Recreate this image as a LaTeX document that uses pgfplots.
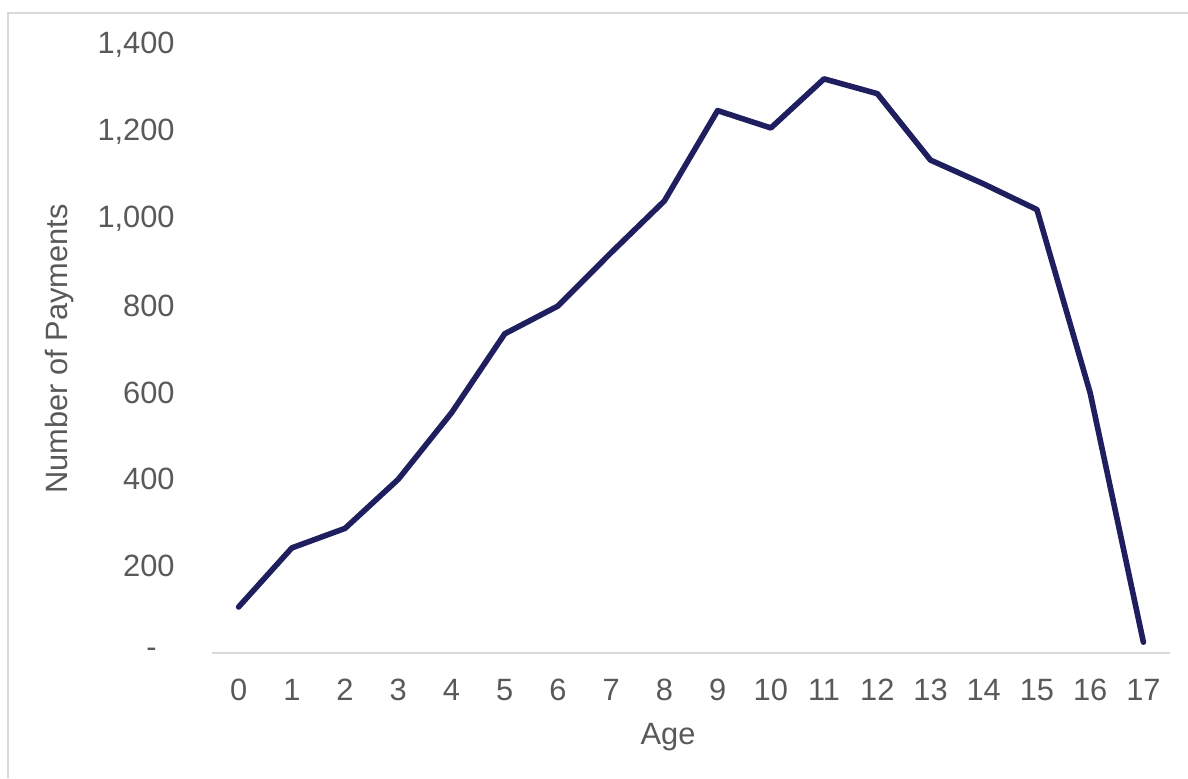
\documentclass[border=0pt]{standalone}
\usepackage{fontspec}
\setmainfont{Liberation Sans}
\usepackage{pgfplots}
\pgfplotsset{compat=1.18}
\usepackage{pgfplotstable}

\definecolor{navy}{HTML}{1F1F5F}
\definecolor{labelgray}{HTML}{595959}
\definecolor{rulegray}{HTML}{D9D9D9}

% payments by age
\pgfplotstableread{
age payments
0   106
1   242
2   287
3   400
4   553
5   735
6   799
7   922
8   1041
9   1249
10  1209
11  1322
12  1288
13  1135
14  1080
15  1021
16  599
17  25
}\paymentdata

\begin{document}
\begin{tikzpicture}
  \begin{axis}[
      scale only axis,
      width=479pt, height=304pt,
      xmin=-0.5, xmax=17.5,
      ymin=0, ymax=1400,
      xtick={0,1,...,17},
      ytick={0,200,400,600,800,1000,1200,1400},
      yticklabels={{\makebox[23pt][c]{-}},200,400,600,800,{1,000},{1,200},{1,400}},
      /pgf/number format/assume math mode=true,
      axis line style={draw=none},
      axis x line*=bottom,
      axis y line*=left,
      major tick length=0pt,
      tick style={draw=none},
      ticklabel style={font=\fontsize{15.4pt}{18pt}\selectfont, text=labelgray, inner sep=0pt},
      xticklabel style={anchor=north, yshift=-13pt},
      yticklabel style={anchor=east, xshift=-18.5pt},
      xlabel={Age},
      ylabel={Number of Payments},
      every axis x label/.style={at={(axis description cs:0.476,-0.138)}, anchor=center,
        font=\fontsize{15.4pt}{18pt}\selectfont, text=labelgray},
      every axis y label/.style={at={(axis description cs:-0.159,0.5)}, rotate=90, anchor=center,
        font=\fontsize{15.4pt}{18pt}\selectfont, text=labelgray},
      clip=false,
    ]
    \draw[rulegray, line width=1pt] (rel axis cs:0,0) -- (rel axis cs:1,0);
    \addplot[navy, line width=2.8pt, line join=round, line cap=round, mark=none]
      table[x=age, y=payments] {\paymentdata};
    \coordinate (sw) at (rel axis cs:0,0);
    \coordinate (ne) at (rel axis cs:1,1);
    \coordinate (nw) at (rel axis cs:0,1);
  \end{axis}
  \draw[rulegray, line width=1pt]
    ([shift={(-102pt,-62.5pt)}]sw) -- ([shift={(-102pt,16pt)}]nw) -- ([shift={(9pt,16pt)}]ne);
  \pgfresetboundingbox
  \useasboundingbox ([shift={(-106pt,-62.5pt)}]sw) rectangle ([shift={(9pt,22.5pt)}]ne);
\end{tikzpicture}
\end{document}
